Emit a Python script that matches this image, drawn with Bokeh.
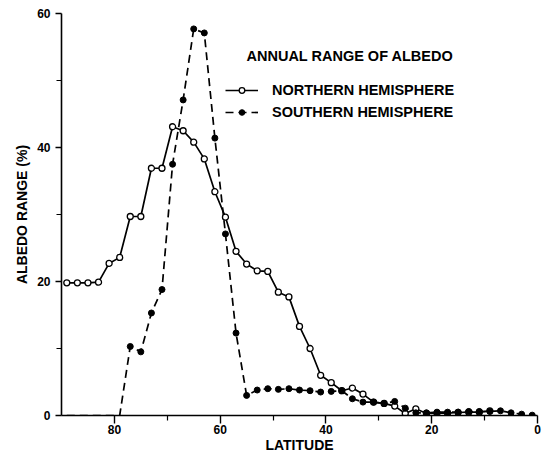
from bokeh.plotting import figure
from bokeh.models import (ColumnDataSource, FixedTicker, Legend, LegendItem,
                          Label, Range1d)
from bokeh.embed import file_html
from bokeh.resources import INLINE

# ---- data ----
north_lat = [89, 87, 85, 83, 81, 79, 77, 75, 73, 71, 69, 67, 65, 63, 61, 59, 57,
             55, 53, 51, 49, 47, 45, 43, 41, 39, 37, 35, 33, 31, 29, 27, 25, 23,
             21, 19, 17, 15, 13, 11, 9]
north_val = [19.8, 19.8, 19.8, 19.9, 22.7, 23.6, 29.7, 29.7, 36.9, 36.9, 43.1,
             42.5, 40.8, 38.3, 33.4, 29.6, 24.5, 22.6, 21.6, 21.5, 18.4, 17.7,
             13.3, 10.0, 6.0, 4.9, 3.7, 4.1, 3.2, 2.0, 1.8, 1.4, 0.3, 1.0, 0.3,
             0.35, 0.35, 0.45, 0.5, 0.5, 0.7]

south_lat = [89, 87, 85, 83, 81, 79, 77, 75, 73, 71, 69, 67, 65, 63, 61, 59, 57,
             55, 53, 51, 49, 47, 45, 43, 41, 39, 37, 35, 33, 31, 29, 27, 25, 23,
             21, 19, 17, 15, 13, 11, 9, 7, 5, 3, 1]
south_val = [0, 0, 0, 0, 0, 0, 10.3, 9.5, 15.3, 18.8, 37.5, 47.1, 57.7, 57.1,
             41.4, 27.1, 12.3, 3.0, 3.8, 4.0, 3.9, 4.0, 3.8, 3.7, 3.5, 3.6, 3.7,
             2.5, 2.0, 2.0, 1.8, 2.1, 1.1, 0.4, 0.4, 0.5, 0.5, 0.5, 0.6, 0.6,
             0.6, 0.7, 0.4, 0.2, 0.05]

x_major = [0, 20, 40, 60, 80]
x_minor = [10, 30, 50, 70]
y_major = [0, 20, 40, 60]
y_minor = [10, 30, 50]

title_text = "ANNUAL RANGE OF ALBEDO"
north_label = "NORTHERN HEMISPHERE"
south_label = "SOUTHERN HEMISPHERE"

FONT = "Liberation Sans"

p = figure(width=549, height=456, output_backend="svg", toolbar_location=None,
           x_range=Range1d(90, 0), y_range=Range1d(0, 60),
           min_border_left=61, min_border_right=12, min_border_top=13,
           min_border_bottom=41)
p.outline_line_color = None
p.grid.visible = False
p.background_fill_color = "white"

north_src = ColumnDataSource(dict(x=north_lat, y=north_val))
south_src = ColumnDataSource(dict(x=south_lat, y=south_val))
south_pts = ColumnDataSource(dict(x=[a for a, b in zip(south_lat, south_val) if b > 0],
                                  y=[b for b in south_val if b > 0]))

nl = p.line("x", "y", source=north_src, line_color="black", line_width=1.7)
sl = p.line("x", "y", source=south_src, line_color="black", line_width=1.7,
            line_dash="8 5")
ns = p.scatter("x", "y", source=north_src, marker="circle", size=6,
               fill_color="white", line_color="black", line_width=1.3)
ss = p.scatter("x", "y", source=south_pts, marker="circle", size=6,
               fill_color="black", line_color="black")

for ax in (p.xaxis[0], p.yaxis[0]):
    ax.axis_line_color = "black"
    ax.axis_line_width = 1.6
    ax.major_tick_line_width = 1.4
    ax.minor_tick_line_width = 1.2
    ax.major_tick_in = 0
    ax.minor_tick_in = 0
    ax.major_label_text_font = FONT
    ax.major_label_text_font_style = "bold"
    ax.major_label_text_font_size = "12px"
    ax.major_label_text_color = "black"
    ax.axis_label_text_font = FONT
    ax.axis_label_text_font_style = "bold"
    ax.axis_label_text_font_size = "14px"
    ax.axis_label_text_color = "black"

p.xaxis.ticker = FixedTicker(ticks=x_major, minor_ticks=x_minor)
p.yaxis.ticker = FixedTicker(ticks=y_major, minor_ticks=y_minor)
p.xaxis.major_tick_out = 8
p.xaxis.minor_tick_out = 5
p.yaxis.major_tick_out = 6
p.yaxis.minor_tick_out = 5
p.xaxis.major_label_standoff = 1
p.yaxis.major_label_standoff = 5
p.xaxis.axis_label = "LATITUDE"
p.yaxis.axis_label = "ALBEDO RANGE (%)"
p.xaxis.axis_label_standoff = 0
p.yaxis.axis_label_standoff = 4

legend = Legend(items=[LegendItem(label=north_label, renderers=[nl, ns]),
                       LegendItem(label=south_label, renderers=[sl, ss])],
                location=(164, 295), orientation="vertical",
                glyph_width=33, glyph_height=14, label_height=14,
                label_standoff=14, spacing=6, padding=0, margin=0,
                border_line_color=None, background_fill_alpha=0,
                label_text_font=FONT, label_text_font_style="bold",
                label_text_font_size="14.5px", label_text_color="black")
p.add_layout(legend)

p.add_layout(Label(x=185, y=359.5, x_units="screen", y_units="screen",
                   text=title_text, text_font=FONT, text_font_style="bold",
                   text_font_size="14.5px", text_baseline="middle",
                   text_color="black"))

open("out.html", "w").write(file_html(p, INLINE))
